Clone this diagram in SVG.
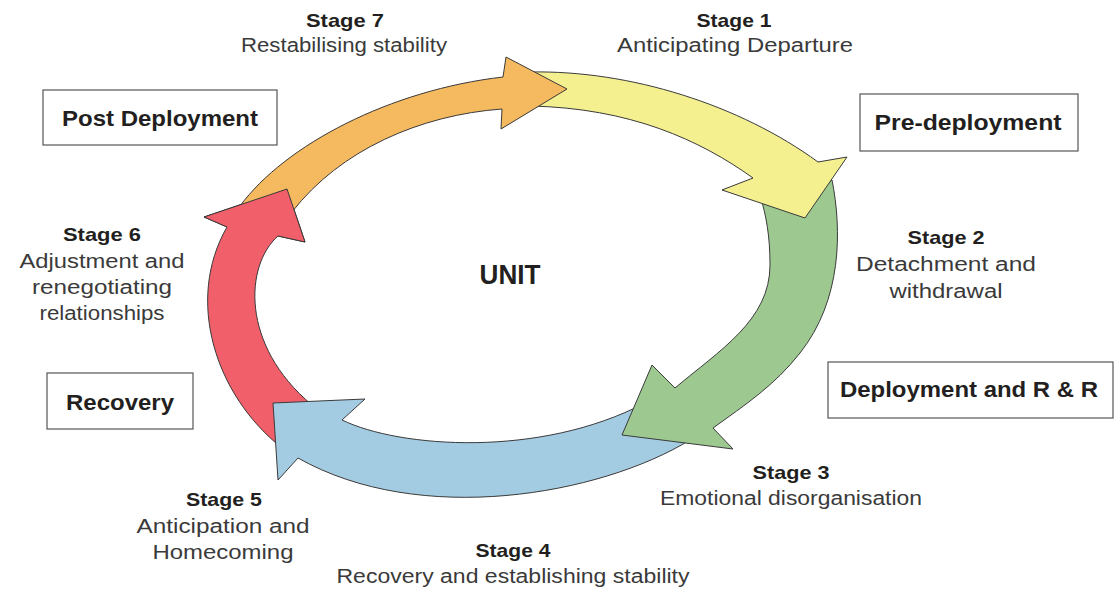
<svg xmlns="http://www.w3.org/2000/svg" width="1116" height="591" viewBox="0 0 1116 591">
<style>
.bg{fill:#ffffff}
.arr{stroke:#3a3a3a;stroke-width:1;stroke-linejoin:miter}
.edge{fill:none;stroke:#3a3a3a;stroke-width:1}
.box{fill:#ffffff;stroke:#555555;stroke-width:1.2}
.t{font-family:"Liberation Sans",Arial,sans-serif;text-anchor:middle}
.stg{font-size:19px;font-weight:bold;fill:#231f20}
.dsc{font-size:20px;fill:#3a3a3a}
.bx{font-size:22px;font-weight:bold;fill:#231f20}
.unit{font-size:27px;font-weight:bold;fill:#231f20}
</style>
<rect class="bg" x="0" y="0" width="1116" height="591"/>
<g id="connectors">
  <path id="arrow-stage6" class="arr" fill="#f05f6a" d="M282,448 C215,395 185,300 227,227 L204,217 L287,189 L305,242 L278,236 C245,265 240,345 312,405 Z"/>
  <path id="arrow-stage4" class="arr" fill="#a3cce3" d="M690,440 C600,495 420,527 298,458 L278,480 L273,403 L365,399 L342,420 C400,448 540,458 645,403 Z"/>
  <path id="arrow-stage2" class="arr" fill="#9dc991" d="M832,180 C842,230 842,300 800,353 C775,385 745,405 713,428 L733,449 L622,435 L652,365 L675,388 C720,350 770,320 770,265 C770,235 766,215 760,195 Z"/>
  <path id="arrow-stage1" class="arr" fill="#f4f08f" d="M530,72 C630,70 740,105 818,162 L847,157 L805,218 L722,190 L753,178 C700,140 630,108 530,106 Z"/>
  <path id="arrow-stage7" class="arr" fill="#f5b95f" d="M240,206 C285,145 390,90 503,77 L506,57 L567,89 L501,129 L502,109 C420,115 340,150 292,212 Z"/>
  <path id="arrow-stage6-head-fill" fill="#f05f6a" d="M227,227 L204,217 L287,189 L305,242 L278,236 Z"/>
  <path id="arrow-stage6-head-edge" class="edge" d="M227,227 L204,217 L287,189 L305,242 L278,236"/>
</g>
<g id="unit"><text class="t unit" x="510" y="284" textLength="61" lengthAdjust="spacingAndGlyphs">UNIT</text></g>
<g id="post-deployment">
  <rect class="box" x="43" y="90" width="234" height="55"/>
  <text class="t bx" x="160" y="126" textLength="196" lengthAdjust="spacingAndGlyphs">Post Deployment</text>
</g>
<g id="pre-deployment">
  <rect class="box" x="860" y="94" width="218" height="57"/>
  <text class="t bx" x="968" y="130" textLength="187" lengthAdjust="spacingAndGlyphs">Pre-deployment</text>
</g>
<g id="deployment">
  <rect class="box" x="828" y="362" width="285" height="56"/>
  <text class="t bx" x="969" y="397" textLength="258" lengthAdjust="spacingAndGlyphs">Deployment and R &amp; R</text>
</g>
<g id="recovery">
  <rect class="box" x="47" y="373" width="146" height="56"/>
  <text class="t bx" x="120" y="410" textLength="108" lengthAdjust="spacingAndGlyphs">Recovery</text>
</g>
<g id="stage1">
  <text class="t stg" x="734" y="27" textLength="75" lengthAdjust="spacingAndGlyphs">Stage 1</text>
  <text class="t dsc" x="735" y="52" textLength="236" lengthAdjust="spacingAndGlyphs">Anticipating Departure</text>
</g>
<g id="stage2">
  <text class="t stg" x="946" y="244" textLength="77" lengthAdjust="spacingAndGlyphs">Stage 2</text>
  <text class="t dsc" x="946" y="271" textLength="180" lengthAdjust="spacingAndGlyphs">Detachment and</text>
  <text class="t dsc" x="946" y="298" textLength="113" lengthAdjust="spacingAndGlyphs">withdrawal</text>
</g>
<g id="stage3">
  <text class="t stg" x="791" y="479" textLength="77" lengthAdjust="spacingAndGlyphs">Stage 3</text>
  <text class="t dsc" x="791" y="505" textLength="262" lengthAdjust="spacingAndGlyphs">Emotional disorganisation</text>
</g>
<g id="stage4">
  <text class="t stg" x="513" y="557" textLength="75" lengthAdjust="spacingAndGlyphs">Stage 4</text>
  <text class="t dsc" x="513" y="583" textLength="353" lengthAdjust="spacingAndGlyphs">Recovery and establishing stability</text>
</g>
<g id="stage5">
  <text class="t stg" x="224" y="506" textLength="76" lengthAdjust="spacingAndGlyphs">Stage 5</text>
  <text class="t dsc" x="223" y="533" textLength="173" lengthAdjust="spacingAndGlyphs">Anticipation and</text>
  <text class="t dsc" x="223" y="559" textLength="141" lengthAdjust="spacingAndGlyphs">Homecoming</text>
</g>
<g id="stage6">
  <text class="t stg" x="102" y="241" textLength="78" lengthAdjust="spacingAndGlyphs">Stage 6</text>
  <text class="t dsc" x="102" y="268" textLength="165" lengthAdjust="spacingAndGlyphs">Adjustment and</text>
  <text class="t dsc" x="102" y="294" textLength="140" lengthAdjust="spacingAndGlyphs">renegotiating</text>
  <text class="t dsc" x="102" y="320" textLength="125" lengthAdjust="spacingAndGlyphs">relationships</text>
</g>
<g id="stage7">
  <text class="t stg" x="345" y="27" textLength="78" lengthAdjust="spacingAndGlyphs">Stage 7</text>
  <text class="t dsc" x="344" y="52" textLength="206" lengthAdjust="spacingAndGlyphs">Restabilising stability</text>
</g>
</svg>
